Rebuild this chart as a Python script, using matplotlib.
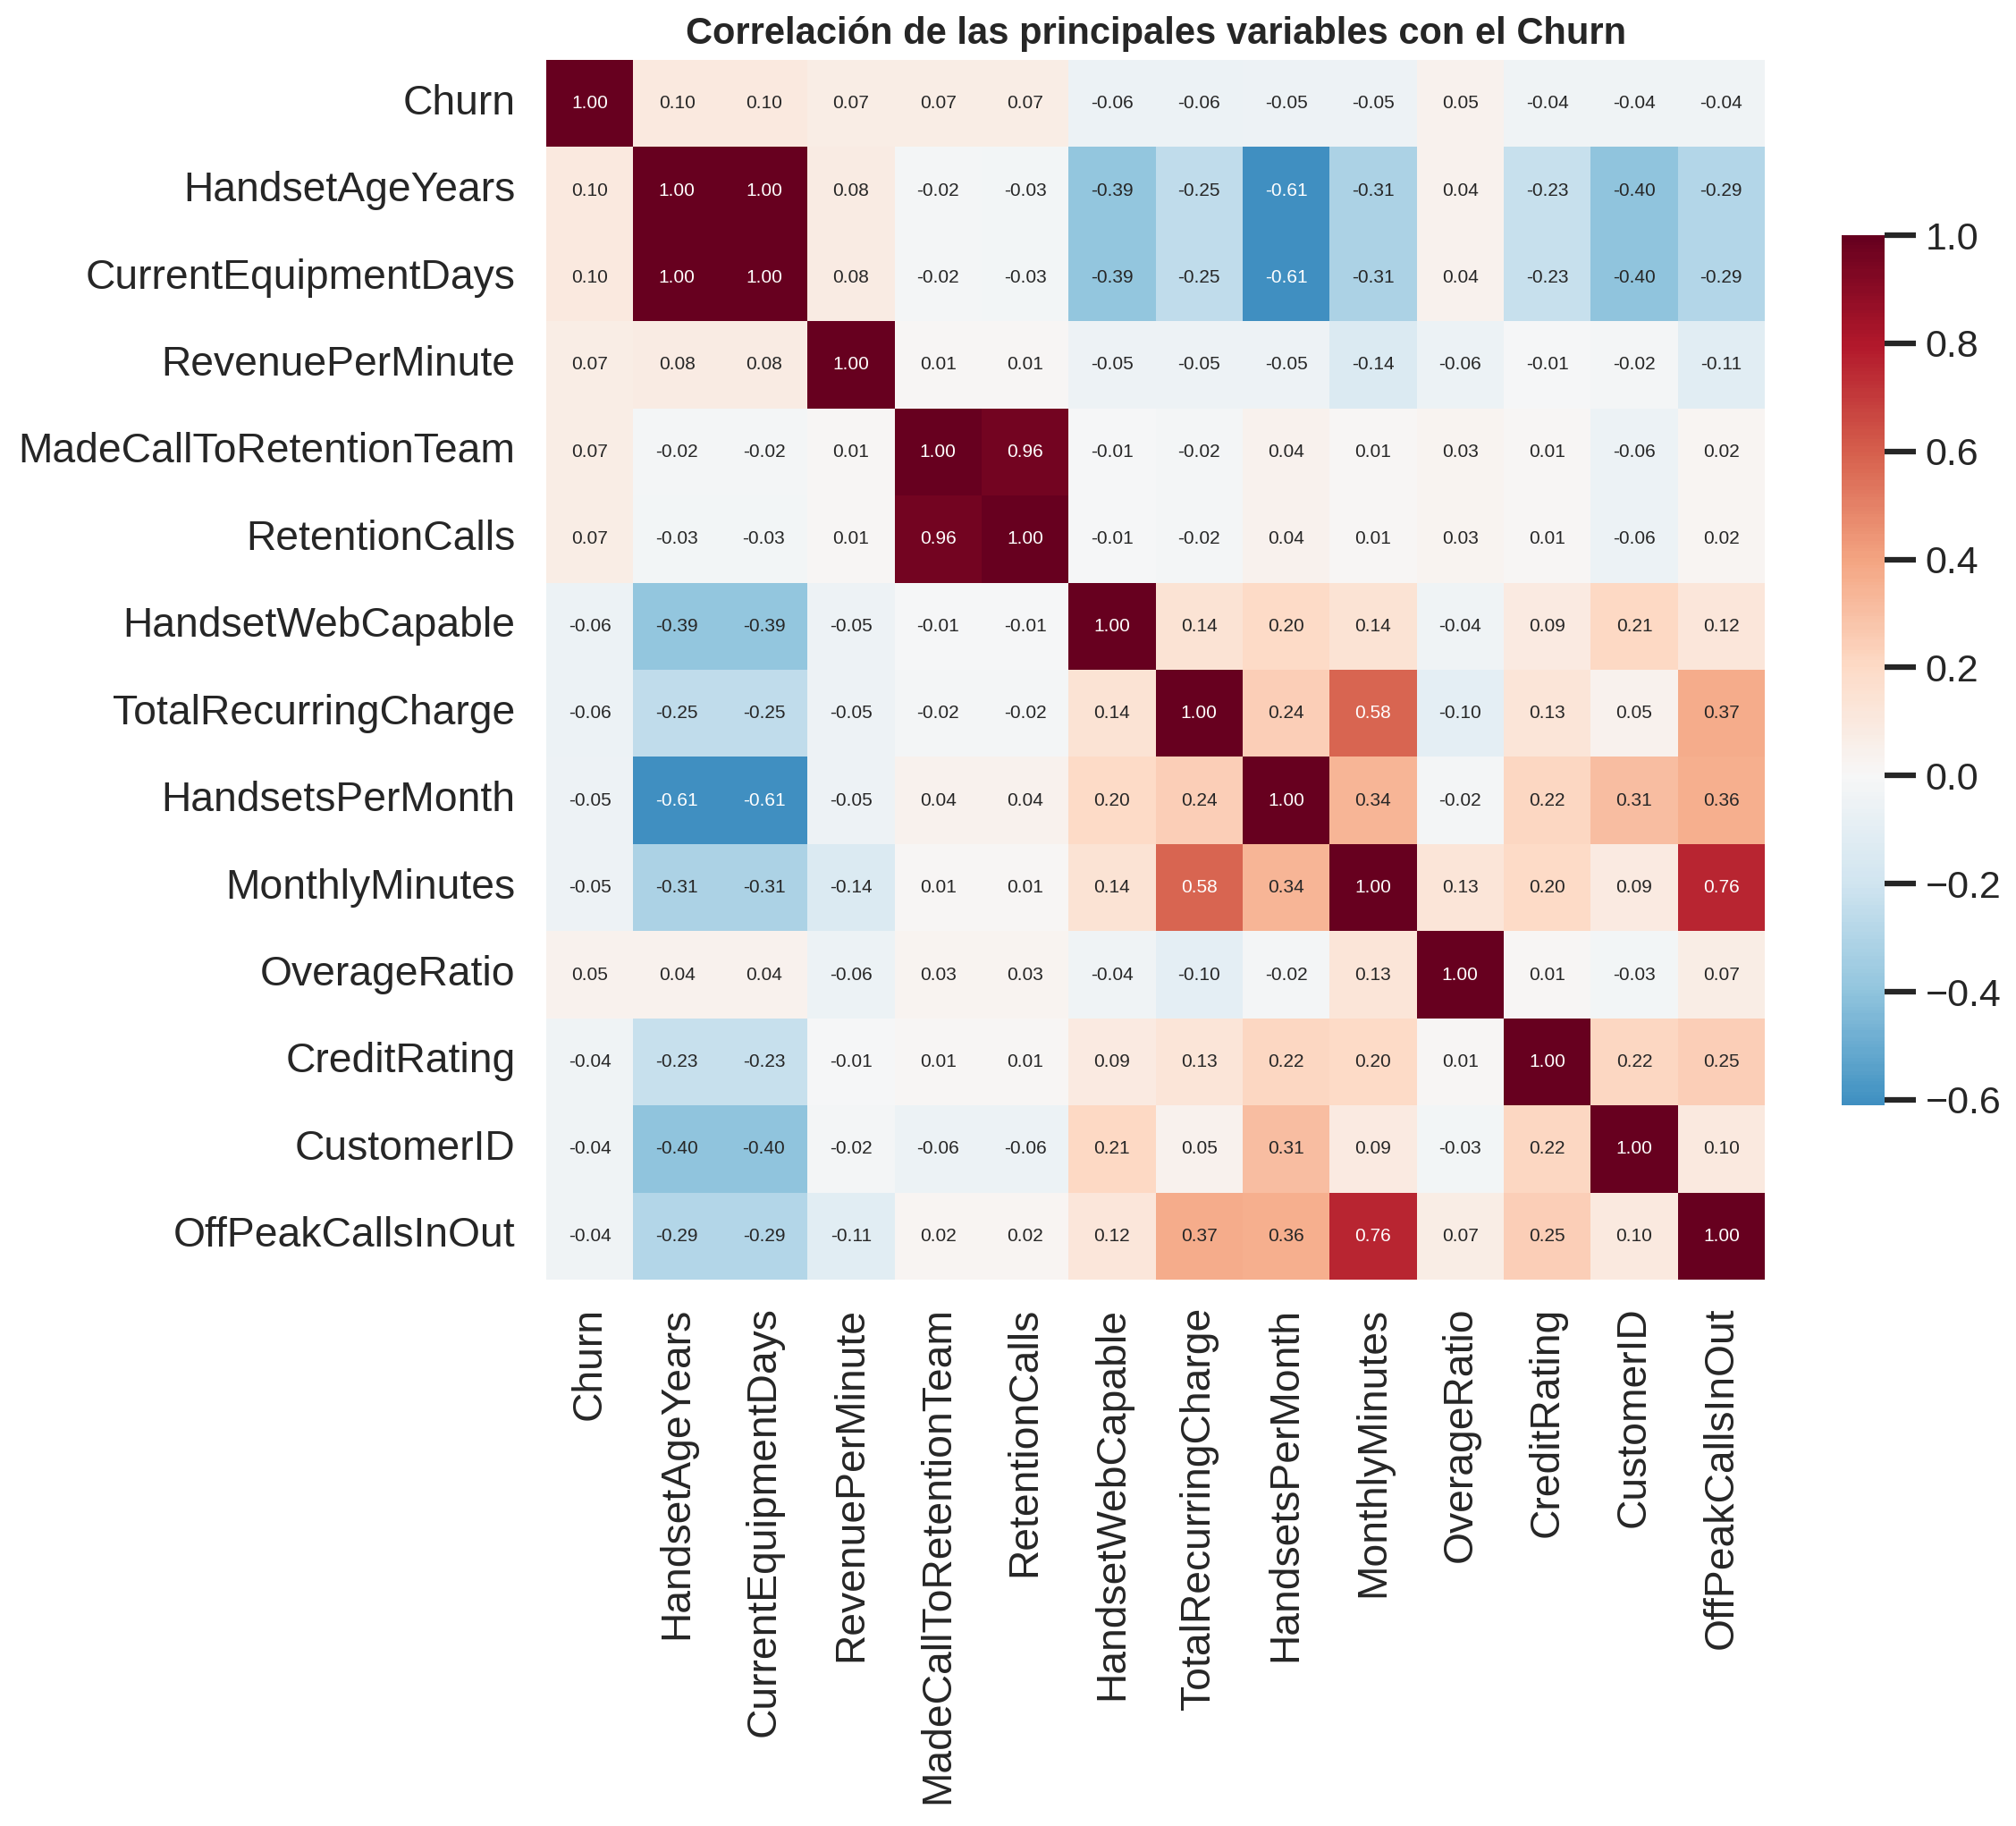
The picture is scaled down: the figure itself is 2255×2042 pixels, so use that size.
import numpy as np
import pandas as pd
import matplotlib
matplotlib.use("Agg")
import matplotlib.pyplot as plt
import seaborn as sns

variables = ["Churn", "HandsetAgeYears", "CurrentEquipmentDays", "RevenuePerMinute",
             "MadeCallToRetentionTeam", "RetentionCalls", "HandsetWebCapable",
             "TotalRecurringCharge", "HandsetsPerMonth", "MonthlyMinutes",
             "OverageRatio", "CreditRating", "CustomerID", "OffPeakCallsInOut"]

churn = [1.00, 0.10, 0.10, 0.07, 0.07, 0.07, -0.06, -0.06, -0.05, -0.05, 0.05, -0.04, -0.04, -0.04]
handset_age = [0.10, 1.00, 1.00, 0.08, -0.02, -0.03, -0.39, -0.25, -0.61, -0.31, 0.04, -0.23, -0.40, -0.29]
equipment_days = [0.10, 1.00, 1.00, 0.08, -0.02, -0.03, -0.39, -0.25, -0.61, -0.31, 0.04, -0.23, -0.40, -0.29]
revenue_min = [0.07, 0.08, 0.08, 1.00, 0.01, 0.01, -0.05, -0.05, -0.05, -0.14, -0.06, -0.01, -0.02, -0.11]
made_call = [0.07, -0.02, -0.02, 0.01, 1.00, 0.96, -0.01, -0.02, 0.04, 0.01, 0.03, 0.01, -0.06, 0.02]
retention_calls = [0.07, -0.03, -0.03, 0.01, 0.96, 1.00, -0.01, -0.02, 0.04, 0.01, 0.03, 0.01, -0.06, 0.02]
web_capable = [-0.06, -0.39, -0.39, -0.05, -0.01, -0.01, 1.00, 0.14, 0.20, 0.14, -0.04, 0.09, 0.21, 0.12]
recurring = [-0.06, -0.25, -0.25, -0.05, -0.02, -0.02, 0.14, 1.00, 0.24, 0.58, -0.10, 0.13, 0.05, 0.37]
handsets_month = [-0.05, -0.61, -0.61, -0.05, 0.04, 0.04, 0.20, 0.24, 1.00, 0.34, -0.02, 0.22, 0.31, 0.36]
monthly_min = [-0.05, -0.31, -0.31, -0.14, 0.01, 0.01, 0.14, 0.58, 0.34, 1.00, 0.13, 0.20, 0.09, 0.76]
overage = [0.05, 0.04, 0.04, -0.06, 0.03, 0.03, -0.04, -0.10, -0.02, 0.13, 1.00, 0.01, -0.03, 0.07]
credit = [-0.04, -0.23, -0.23, -0.01, 0.01, 0.01, 0.09, 0.13, 0.22, 0.20, 0.01, 1.00, 0.22, 0.25]
customer_id = [-0.04, -0.40, -0.40, -0.02, -0.06, -0.06, 0.21, 0.05, 0.31, 0.09, -0.03, 0.22, 1.00, 0.10]
offpeak = [-0.04, -0.29, -0.29, -0.11, 0.02, 0.02, 0.12, 0.37, 0.36, 0.76, 0.07, 0.25, 0.10, 1.00]

rows = [churn, handset_age, equipment_days, revenue_min, made_call, retention_calls,
        web_capable, recurring, handsets_month, monthly_min, overage, credit,
        customer_id, offpeak]
corr = pd.DataFrame(np.array(rows), index=variables, columns=variables)

sns.set_theme(style="white")
plt.rcParams['font.family'] = ['Liberation Sans', 'DejaVu Sans']

fig = plt.figure(figsize=(22.55, 20.42), dpi=100)
ax = fig.add_axes([0.2710, 0.2992, 0.6044, 0.6680])
cax = fig.add_axes([0.9135, 0.3947, 0.0213, 0.4765])

sns.heatmap(corr, annot=True, fmt=".2f", cmap="RdBu_r", center=0,
            ax=ax, cbar_ax=cax, annot_kws={"size": 15})

ax.set_title("Correlación de las principales variables con el Churn",
             fontsize=30, fontweight="bold", color=".15", pad=13)
ax.tick_params(axis="both", length=0, labelsize=33.3, colors=".15")
ax.tick_params(axis="y", pad=25)
ax.tick_params(axis="x", pad=22)
ax.set_xticklabels(variables, rotation=90)
ax.set_yticklabels(variables, rotation=0)

cax.tick_params(labelsize=31, length=25, width=4.5, colors=".15", right=True, pad=8)
cax.set_yticks([-0.6, -0.4, -0.2, 0.0, 0.2, 0.4, 0.6, 0.8, 1.0])
cax.set_yticklabels(["\u22120.6", "\u22120.4", "\u22120.2", "0.0", "0.2", "0.4", "0.6", "0.8", "1.0"])

fig.savefig("out.png", dpi=100)
